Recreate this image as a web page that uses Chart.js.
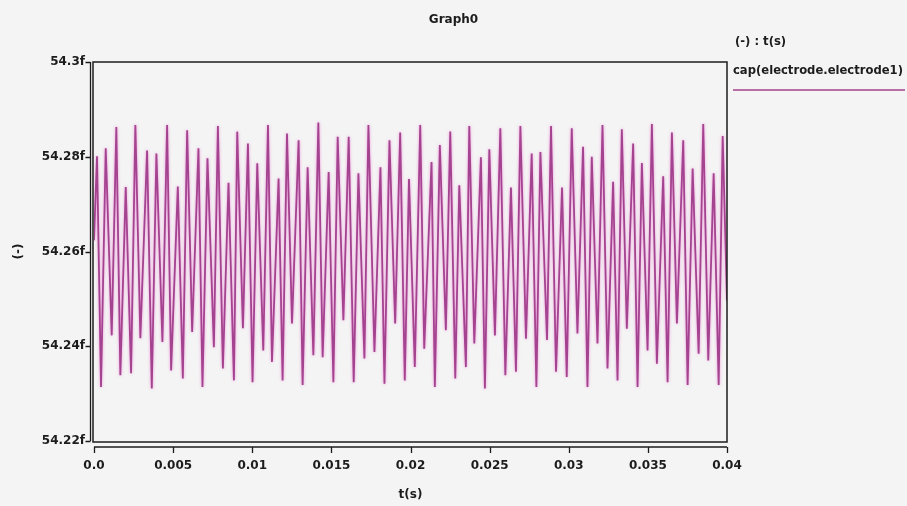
<!DOCTYPE html>
<html>
<head>
<meta charset="utf-8">
<script src="https://cdn.jsdelivr.net/npm/chart.js@4/dist/chart.umd.min.js"></script>
<style>
  html, body { margin: 0; padding: 0; background: #f4f4f4; }
  #wrap { width: 907px; height: 506px; }
</style>
</head>
<body>
<div id="wrap"><canvas id="c" width="907" height="506"></canvas></div>
<script>
// Sampled capacitance trace: time (s) and capacitance (fF), turning points of the oscillation
const timeS = [
  0, 0.000190, 0.000443, 0.000741, 0.001120, 0.001411, 0.001665, 0.002006, 0.002342, 0.002614,
  0.002930, 0.003354, 0.003652, 0.003943, 0.004323, 0.004620, 0.004873, 0.005297, 0.005614, 0.005886,
  0.006202, 0.006601, 0.006854, 0.007171, 0.007576, 0.007829, 0.008145, 0.008500, 0.008842, 0.009051,
  0.009411, 0.009728, 0.010019, 0.010316, 0.010696, 0.010993, 0.011247, 0.011664, 0.011918, 0.012196,
  0.012512, 0.012930, 0.013183, 0.013500, 0.013861, 0.014177, 0.014449, 0.014829, 0.015126, 0.015399,
  0.015759, 0.016095, 0.016411, 0.016709, 0.017088, 0.017341, 0.017721, 0.018101, 0.018354, 0.018671,
  0.019031, 0.019348, 0.019639, 0.019905, 0.020272, 0.020614, 0.020867, 0.021329, 0.021538, 0.021854,
  0.022234, 0.022512, 0.022829, 0.023082, 0.023500, 0.023715, 0.024031, 0.024449, 0.024702, 0.024981,
  0.025335, 0.025677, 0.025993, 0.026348, 0.026664, 0.026943, 0.027297, 0.027658, 0.027955, 0.028208,
  0.028626, 0.028879, 0.029196, 0.029576, 0.029873, 0.030189, 0.030550, 0.030904, 0.031183, 0.031455,
  0.031816, 0.032132, 0.032449, 0.032803, 0.033082, 0.033354, 0.033670, 0.034069, 0.034348, 0.034620,
  0.034980, 0.035253, 0.035569, 0.035968, 0.036246, 0.036518, 0.036835, 0.037234, 0.037512, 0.037829,
  0.038208, 0.038499, 0.038816, 0.039157, 0.039474, 0.039727, 0.040000
];
const capF = [
  54.2624, 54.2801, 54.2314, 54.2818, 54.2423, 54.2863, 54.2339, 54.2736, 54.2343, 54.2867,
  54.2417, 54.2813, 54.2311, 54.2807, 54.2409, 54.2867, 54.2349, 54.2737, 54.2332, 54.2856,
  54.2430, 54.2818, 54.2314, 54.2797, 54.2398, 54.2865, 54.2353, 54.2745, 54.2328, 54.2853,
  54.2438, 54.2828, 54.2324, 54.2786, 54.2391, 54.2867, 54.2367, 54.2754, 54.2328, 54.2849,
  54.2448, 54.2835, 54.2318, 54.2778, 54.2381, 54.2872, 54.2377, 54.2768, 54.2324, 54.2842,
  54.2455, 54.2842, 54.2324, 54.2765, 54.2374, 54.2867, 54.2388, 54.2778, 54.2321, 54.2835,
  54.2448, 54.2851, 54.2328, 54.2753, 54.2356, 54.2867, 54.2395, 54.2789, 54.2314, 54.2825,
  54.2434, 54.2853, 54.2332, 54.2740, 54.2356, 54.2865, 54.2406, 54.2799, 54.2311, 54.2816,
  54.2423, 54.2860, 54.2339, 54.2735, 54.2346, 54.2865, 54.2416, 54.2807, 54.2314, 54.2810,
  54.2413, 54.2865, 54.2346, 54.2735, 54.2335, 54.2860, 54.2427, 54.2821, 54.2314, 54.2800,
  54.2406, 54.2867, 54.2353, 54.2747, 54.2328, 54.2858, 54.2437, 54.2828, 54.2314, 54.2787,
  54.2391, 54.2869, 54.2363, 54.2759, 54.2324, 54.2851, 54.2448, 54.2835, 54.2318, 54.2775,
  54.2384, 54.2869, 54.2370, 54.2765, 54.2318, 54.2844, 54.2497
];

const xTickValues = [0, 0.005, 0.01, 0.015, 0.02, 0.025, 0.03, 0.035, 0.04];
const xTickLabels = ['0.0', '0.005', '0.01', '0.015', '0.02', '0.025', '0.03', '0.035', '0.04'];
const yTickValues = [54.22, 54.24, 54.26, 54.28, 54.3];
const yTickLabels = ['54.22f', '54.24f', '54.26f', '54.28f', '54.3f'];

const seriesName = 'cap(electrode.electrode1)';
const legendHeader = '(-) : t(s)';

const INK = '#1c1c1c';
const TRACE = '#a4438f';
const GLOW = 'rgba(236, 120, 210, 0.8)';
const FONT = '"DejaVu Sans", "Liberation Sans", sans-serif';
const labelFont = { family: FONT, size: 12, weight: 'bold' };

// Soft pink fringe around the trace strokes
const traceGlow = {
  id: 'traceGlow',
  beforeDatasetDraw(chart) {
    const c = chart.ctx;
    c.save();
    c.shadowColor = GLOW;
    c.shadowBlur = 3;
  },
  afterDatasetDraw(chart) {
    chart.ctx.restore();
  }
};

// Boxed plot frame plus the detached x and y axis lines with their tick marks,
// and the series key on the right.
const frameAndKey = {
  id: 'frameAndKey',
  afterDraw(chart) {
    const { ctx, chartArea: a, scales } = chart;
    const x = scales.x, y = scales.y;
    ctx.save();
    ctx.strokeStyle = INK;
    ctx.lineWidth = 1.5;
    ctx.strokeRect(a.left - 1, a.top, a.right - a.left + 1, a.bottom - a.top + 1);

    ctx.lineWidth = 1.3;
    ctx.beginPath();
    const axY = a.bottom + 6;
    ctx.moveTo(x.getPixelForValue(xTickValues[0]), axY);
    ctx.lineTo(x.getPixelForValue(xTickValues[xTickValues.length - 1]), axY);
    xTickValues.forEach(v => {
      const px = Math.round(x.getPixelForValue(v)) + 0.5;
      ctx.moveTo(px, axY);
      ctx.lineTo(px, axY + 6);
    });
    const axX = a.left - 3.5;
    ctx.moveTo(axX, y.getPixelForValue(yTickValues[yTickValues.length - 1]));
    ctx.lineTo(axX, y.getPixelForValue(yTickValues[0]));
    yTickValues.forEach(v => {
      const py = Math.round(y.getPixelForValue(v)) + 0.5;
      ctx.moveTo(axX, py);
      ctx.lineTo(axX - 5, py);
    });
    ctx.stroke();

    // series key
    ctx.fillStyle = INK;
    ctx.font = 'bold 11.6px ' + FONT;
    ctx.textBaseline = 'middle';
    ctx.textAlign = 'left';
    ctx.fillText(legendHeader, a.right + 8, 42);
    ctx.fillText(chart.data.datasets[0].label, a.right + 6, 71);
    ctx.strokeStyle = TRACE;
    ctx.lineWidth = 1.5;
    ctx.beginPath();
    ctx.moveTo(a.right + 6, 90);
    ctx.lineTo(chart.width - 2, 90);
    ctx.stroke();
    ctx.restore();
  }
};

new Chart(document.getElementById('c'), {
  type: 'line',
  data: {
    datasets: [{
      label: seriesName,
      data: timeS.map((t, i) => ({ x: t, y: capF[i] })),
      borderColor: TRACE,
      borderWidth: 1.8,
      pointRadius: 0,
      tension: 0,
      fill: false
    }]
  },
  options: {
    responsive: false,
    animation: false,
    layout: { padding: { left: 0, right: 0, top: 0, bottom: 0 } },
    plugins: {
      legend: { display: false },
      tooltip: { enabled: false },
      title: {
        display: true,
        text: 'Graph0',
        color: INK,
        font: { family: FONT, size: 12, weight: 'bold' },
        padding: { top: 12.8, bottom: 34.8 }
      }
    },
    scales: {
      x: {
        type: 'linear',
        min: 0,
        max: 0.04,
        afterBuildTicks: s => { s.ticks = xTickValues.map(v => ({ value: v })); },
        afterFit: s => { s.height = 65; },
        grid: { display: false, drawTicks: false },
        border: { display: false },
        ticks: {
          color: INK,
          font: labelFont,
          padding: 18,
          maxRotation: 0,
          callback: (v, i) => xTickLabels[i]
        },
        title: {
          display: true,
          text: 't(s)',
          color: INK,
          font: labelFont,
          padding: { top: 0, bottom: 4 }
        }
      },
      y: {
        type: 'linear',
        min: 54.22,
        max: 54.3,
        afterBuildTicks: s => { s.ticks = yTickValues.map(v => ({ value: v })); },
        afterFit: s => { s.width = 94; },
        grid: { display: false, drawTicks: false },
        border: { display: false },
        ticks: {
          color: INK,
          font: labelFont,
          padding: 9,
          callback: (v, i) => yTickLabels[i]
        },
        title: {
          display: true,
          text: '(-)',
          color: INK,
          font: labelFont,
          padding: { top: 12, bottom: 0 }
        }
      },
      keySpace: {
        type: 'linear',
        position: 'right',
        display: true,
        afterFit: s => { s.width = 180; },
        grid: { display: false, drawTicks: false },
        border: { display: false },
        ticks: { display: false }
      }
    }
  },
  plugins: [traceGlow, frameAndKey]
});
</script>
</body>
</html>
